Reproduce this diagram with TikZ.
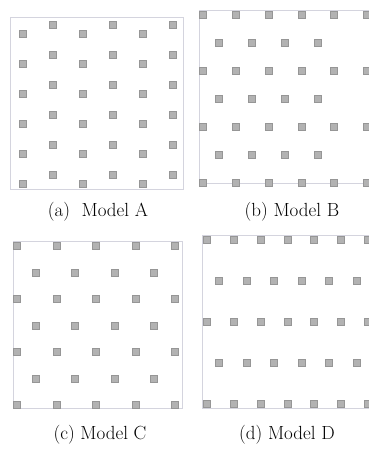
\documentclass[tikz,border=0pt]{standalone}
\usepackage{tikz}
\usetikzlibrary{positioning}
\definecolor{grismarco}{RGB}{212,212,222}
\definecolor{grisposte}{RGB}{178,178,178}
\definecolor{bordeposte}{RGB}{150,150,150}
\tikzset{
  marco/.style={draw=grismarco, line width=1pt},
  poste/.style={rectangle, draw=bordeposte, fill=grisposte, line width=0.6pt, minimum size=7pt, inner sep=0pt},
  rotulo/.style={font=\fontsize{19}{22}\selectfont, inner sep=0pt},
}
\begin{document}
\begin{tikzpicture}[x=1pt, y=-1pt]
          \useasboundingbox (0,0) rectangle (369,453);
          % (a) Model A
          \draw[marco] (10,17) rectangle (183,189);
          \foreach \i in {0,2,4} \foreach \j in {0,...,5} \node[poste] (a-\i-\j) at ({23+30*\i},{34+30*\j}) {};
          \foreach \i in {1,3,5} \foreach \j in {0,...,5} \node[poste] (a-\i-\j) at ({23+30*\i},{25+30*\j}) {};
          \node[rotulo] (rot-a) at (98,212) {(a)~~Model A};
          % (b) Model B
          \draw[marco] (199,10) rectangle (370,183);
          \foreach \j in {0,2,4,6} \foreach \i in {0,...,5} \node[poste] (b-\i-\j) at ({203+32.8*\i},{15+28*\j}) {};
          \foreach \j in {1,3,5} \foreach \i in {0,...,3} \node[poste] (b-\i-\j) at ({219+33*\i},{15+28*\j}) {};
          \node[rotulo] (rot-b) at (292,212) {(b) Model B};
          % (c) Model C
          \draw[marco] (13,241) rectangle (182,408);
          \foreach \j in {0,2,4,6} \foreach \i in {0,...,4} \node[poste] (c-\i-\j) at ({17+39.5*\i},{246+26.5*\j}) {};
          \foreach \j in {1,3,5} \foreach \i in {0,...,3} \node[poste] (c-\i-\j) at ({35.5+39.5*\i},{246+26.5*\j}) {};
          \node[rotulo] (rot-c) at (100,435) {(c) Model C};
          % (d) Model D
          \draw[marco] (202,235) rectangle (370,408);
          \foreach \j in {0,2,4} \foreach \i in {0,...,6} \node[poste] (d-\i-\j) at ({207+26.8*\i},{240+41*\j}) {};
          \foreach \j in {1,3} \foreach \i in {0,...,5} \node[poste] (d-\i-\j) at ({219+27.5*\i},{240+41*\j}) {};
          \node[rotulo] (rot-d) at (287,435) {(d) Model D};
        \end{tikzpicture}
\end{document}
